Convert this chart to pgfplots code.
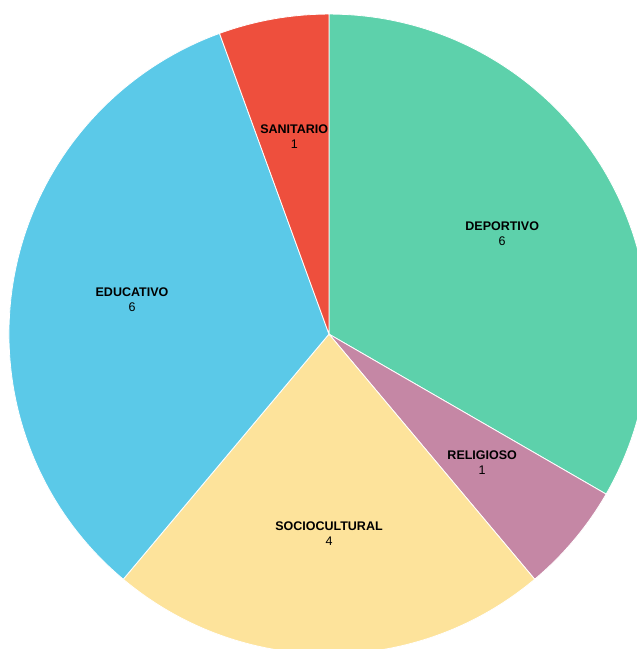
\documentclass[border=0pt]{standalone}
\usepackage{pgfplots}
\pgfplotsset{compat=1.18}
\usepackage{fontspec}
\setmainfont{Liberation Sans}

\definecolor{dep}{HTML}{5DD1AB}
\definecolor{rel}{HTML}{C587A5}
\definecolor{soc}{HTML}{FDE39B}
\definecolor{edu}{HTML}{5BC9E8}
\definecolor{san}{HTML}{EE4F3D}

% values: DEPORTIVO 6, RELIGIOSO 1, SOCIOCULTURAL 4, EDUCATIVO 6, SANITARIO 1
\def\vA{6}\def\vB{1}\def\vC{4}\def\vD{6}\def\vE{1}
\pgfmathsetmacro\total{\vA+\vB+\vC+\vD+\vE}
\pgfmathsetmacro\aA{90}
\pgfmathsetmacro\aB{\aA-360*\vA/\total}
\pgfmathsetmacro\aC{\aB-360*\vB/\total}
\pgfmathsetmacro\aD{\aC-360*\vC/\total}
\pgfmathsetmacro\aE{\aD-360*\vD/\total}
\pgfmathsetmacro\aF{\aE-360*\vE/\total}
\def\lr{0.625}

\begin{document}
\begin{tikzpicture}
\begin{axis}[
    scale only axis,
    width=637bp, height=649bp,
    xmin=-1.028, xmax=0.9625,
    ymin=-0.984, ymax=1.044,
    hide axis,
    clip=true,
]
\addplot[draw=none] coordinates {(0,0)};
\tikzset{wedge/.style={draw=white, line width=0.8bp}}
\fill[dep, wedge] (axis cs:0,0) -- (axis cs:{cos(\aA)},{sin(\aA)}) arc[start angle=\aA, end angle=\aB, radius=320bp] -- cycle;
\fill[rel, wedge] (axis cs:0,0) -- (axis cs:{cos(\aB)},{sin(\aB)}) arc[start angle=\aB, end angle=\aC, radius=320bp] -- cycle;
\fill[soc, wedge] (axis cs:0,0) -- (axis cs:{cos(\aC)},{sin(\aC)}) arc[start angle=\aC, end angle=\aD, radius=320bp] -- cycle;
\fill[edu, wedge] (axis cs:0,0) -- (axis cs:{cos(\aD)},{sin(\aD)}) arc[start angle=\aD, end angle=\aE, radius=320bp] -- cycle;
\fill[san, wedge] (axis cs:0,0) -- (axis cs:{cos(\aE)},{sin(\aE)}) arc[start angle=\aE, end angle=\aF, radius=320bp] -- cycle;
\tikzset{lab/.style={align=center, font=\fontsize{12.5bp}{15bp}\selectfont, text=black}}
\node[lab] at (axis cs:{\lr*cos((\aA+\aB)/2)},{\lr*sin((\aA+\aB)/2)}) {\textbf{DEPORTIVO}\\\vA};
\node[lab] at (axis cs:{\lr*cos((\aB+\aC)/2)},{\lr*sin((\aB+\aC)/2)}) {\textbf{RELIGIOSO}\\\vB};
\node[lab] at (axis cs:{\lr*cos((\aC+\aD)/2)},{\lr*sin((\aC+\aD)/2)}) {\textbf{SOCIOCULTURAL}\\\vC};
\node[lab] at (axis cs:{\lr*cos((\aD+\aE)/2)},{\lr*sin((\aD+\aE)/2)}) {\textbf{EDUCATIVO}\\\vD};
\node[lab] at (axis cs:{\lr*cos((\aE+\aF)/2)},{\lr*sin((\aE+\aF)/2)}) {\textbf{SANITARIO}\\\vE};
\end{axis}
\pgfresetboundingbox
\useasboundingbox (current axis.south west) rectangle (current axis.north east);
\end{tikzpicture}
\end{document}
